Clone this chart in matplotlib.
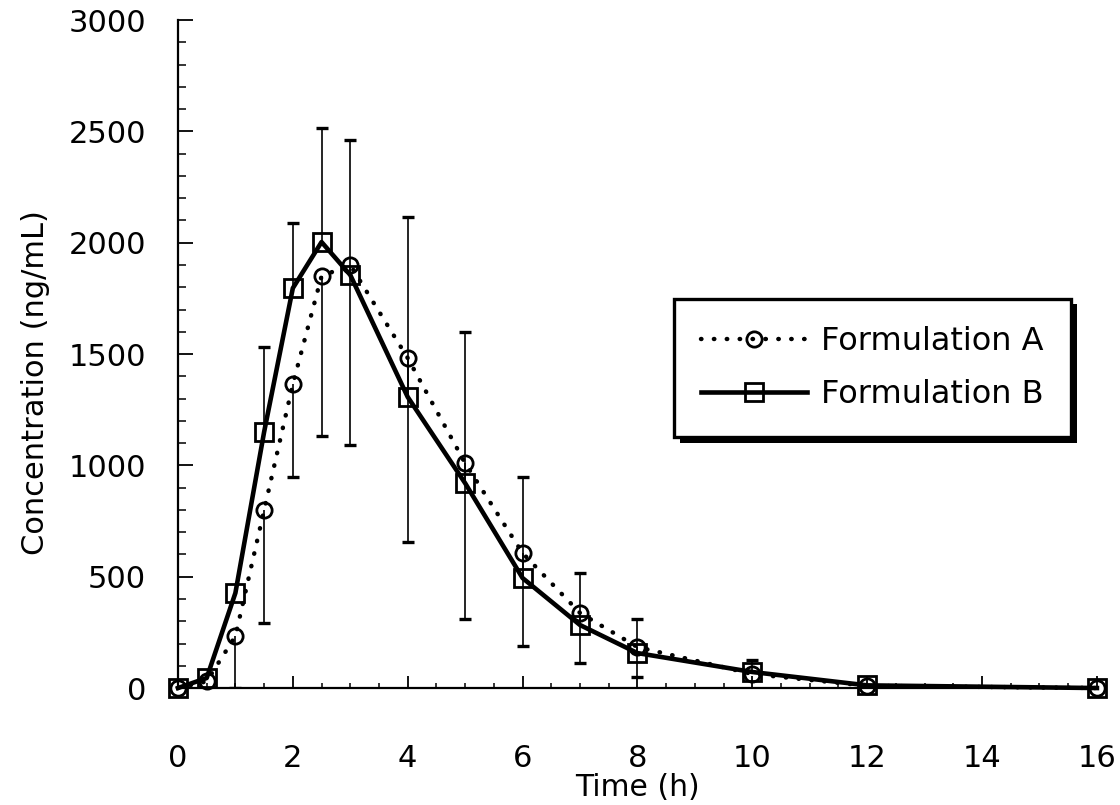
import numpy as np
import matplotlib
matplotlib.use("Agg")
import matplotlib.pyplot as plt
import matplotlib.patheffects as pe
from matplotlib.ticker import MultipleLocator

# Datos
tiempos = [0, 0.5, 1, 1.5, 2, 2.5, 3, 4, 5, 6, 7, 8, 10, 12, 16]
conc_a = [0, 30, 233, 799, 1365, 1850, 1900, 1482, 1010, 606, 337, 184, 63, 10, 0]
conc_b = [0, 45, 427, 1150, 1796, 2003, 1855, 1307, 920, 494, 283, 157, 72, 12, 0]
# desviaciones: A se dibuja hacia abajo, B hacia arriba
sd_a = [0, 0, 233, 507, 417, 718, 809, 826, 700, 417, 225, 135, 0, 0, 0]
sd_b = [0, 0, 0, 381, 292, 512, 606, 808, 679, 454, 233, 153, 54, 0, 0]
etiquetas = ["Formulation A", "Formulation B"]

plt.rcParams["font.family"] = ["DejaVu Sans"]

fig = plt.figure(figsize=(11.2, 8.05), dpi=100)
ax = fig.add_axes([0.1589, 0.1453, 0.8205, 0.8298])

t = np.array(tiempos)
a = np.array(conc_a)
b = np.array(conc_b)
ea = np.array(sd_a)
eb = np.array(sd_b)

# Barras de error
ma = ea > 0
ax.vlines(t[ma], a[ma] - ea[ma], a[ma], color="black", lw=1.2, zorder=2)
ax.plot(t[ma], a[ma] - ea[ma], ls="none", marker="_", ms=9, mew=2.4, color="black", zorder=2)
mb = eb > 0
ax.vlines(t[mb], b[mb], b[mb] + eb[mb], color="black", lw=1.2, zorder=2)
ax.plot(t[mb], b[mb] + eb[mb], ls="none", marker="_", ms=9, mew=2.4, color="black", zorder=2)

# Curvas
ax.plot(t, a, color="black", lw=3.2, linestyle=(0, (0.1, 2.8)), dash_capstyle="round",
        marker="o", ms=11, mfc="none", mec="black", mew=2, label=etiquetas[0],
        clip_on=False, zorder=3)
ax.plot(t, b, color="black", lw=3.3, linestyle="-",
        marker="s", ms=13, mfc="none", mec="black", mew=2, label=etiquetas[1],
        clip_on=False, zorder=4)

ax.set_xlim(0, 16)
ax.set_ylim(0, 3000)
ax.xaxis.set_major_locator(MultipleLocator(2))
ax.xaxis.set_minor_locator(MultipleLocator(0.5))
ax.yaxis.set_major_locator(MultipleLocator(500))
ax.yaxis.set_minor_locator(MultipleLocator(100))

for lado in ["top", "right"]:
    ax.spines[lado].set_visible(False)
for lado in ["left", "bottom"]:
    ax.spines[lado].set_linewidth(1.6)

ax.tick_params(axis="x", which="major", direction="in", length=8.6, width=1.3, pad=40, labelsize=22)
ax.tick_params(axis="x", which="minor", direction="in", length=3.6, width=1.1)
ax.tick_params(axis="y", which="major", direction="in", length=10.8, width=1.3, pad=23, labelsize=22)
ax.tick_params(axis="y", which="minor", direction="in", length=5.8, width=1.1)

ax.set_xlabel("Time (h)", fontsize=21.5)
ax.xaxis.set_label_coords(0.5, -0.127)
ax.set_ylabel("Concentration (ng/mL)", fontsize=22)
ax.yaxis.set_label_coords(-0.139, 0.457)

leg = ax.legend(loc="center", bbox_to_anchor=(0.756, 0.479), fontsize=23,
                numpoints=1, handlelength=3.3, handletextpad=0.45, borderpad=0.85,
                labelspacing=0.7, fancybox=False, framealpha=1)
marco = leg.get_frame()
marco.set_edgecolor("black")
marco.set_linewidth(2.4)
marco.set_path_effects([pe.SimplePatchShadow(offset=(4, -4), shadow_rgbFace="black", alpha=1),
                        pe.Normal()])

fig.savefig("out.png", dpi=100)
